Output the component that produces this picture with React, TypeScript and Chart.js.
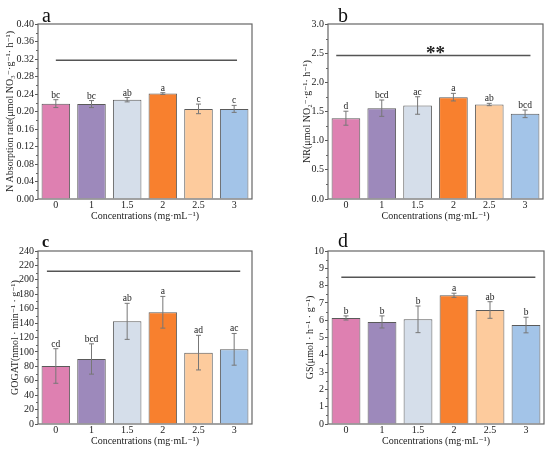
import { useEffect, useRef } from "react";
import { Chart, registerables } from "chart.js";

Chart.register(...registerables);

const categories = ["0", "1", "1.5", "2", "2.5", "3"];
const barColors = ["#DE80B1", "#9D89BB", "#D5DEEA", "#F8802E", "#FDCB9D", "#A3C4E8"];

const absorptionMeans = [0.218, 0.217, 0.227, 0.241, 0.206, 0.206];
const absorptionErrors = [0.009, 0.008, 0.005, 0.002, 0.011, 0.008];
const absorptionLetters = ["bc", "bc", "ab", "a", "c", "c"];

const nrMeans = [1.385, 1.557, 1.603, 1.746, 1.62, 1.46];
const nrErrors = [0.12, 0.14, 0.15, 0.065, 0.02, 0.065];
const nrLetters = ["d", "bcd", "ac", "a", "ab", "bcd"];

const gogatMeans = [80.5, 90.2, 142.4, 155, 99, 103.6];
const gogatErrors = [24, 21, 25, 22, 24, 22];
const gogatLetters = ["cd", "bcd", "ab", "a", "ad", "ac"];

const gsMeans = [6.13, 5.9, 6.05, 7.44, 6.59, 5.72];
const gsErrors = [0.12, 0.35, 0.77, 0.12, 0.48, 0.45];
const gsLetters = ["b", "b", "b", "a", "ab", "b"];

const FONT = "'Liberation Serif', 'DejaVu Serif', serif";
const X_TITLE = "Concentrations (mg·mL⁻¹)";

type PanelSpec = {
  tag: string;
  tagFont: string;
  tagDx: number;
  tagDy: number;
  means: number[];
  errors: number[];
  letters: string[];
  yTitle: string;
  yMax: number;
  yStep: number;
  decimals: number;
  lineValue: number;
  lineFrom: number;
  lineTo: number;
  stars?: string;
  left: number;
  top: number;
  width: number;
  height: number;
  yWidth: number;
  padRight: number;
  padTop: number;
  xHeight: number;
  yTitlePad: number;
  xTitlePad: number;
};

const panels: PanelSpec[] = [
  {
    tag: "a", tagFont: `20px ${FONT}`, tagDx: 4, tagDy: -2,
    means: absorptionMeans, errors: absorptionErrors, letters: absorptionLetters,
    yTitle: "N Absorption rate(μmol NO₃⁻·g⁻¹· h⁻¹)",
    yMax: 0.4, yStep: 0.04, decimals: 2,
    lineValue: 0.317, lineFrom: 0, lineTo: 5.08,
    left: 0, top: 0, width: 275, height: 225,
    yWidth: 38, padRight: 23, padTop: 24, xHeight: 26, yTitlePad: 4, xTitlePad: 3,
  },
  {
    tag: "b", tagFont: `20px ${FONT}`, tagDx: 10, tagDy: -2,
    means: nrMeans, errors: nrErrors, letters: nrLetters,
    yTitle: "NR(μmol NO₂⁻·g⁻¹· h⁻¹)",
    yMax: 3, yStep: 0.5, decimals: 1,
    lineValue: 2.462, lineFrom: -0.27, lineTo: 5.15, stars: "**",
    left: 275, top: 0, width: 275, height: 225,
    yWidth: 53, padRight: 7, padTop: 24, xHeight: 26, yTitlePad: 26, xTitlePad: 3,
  },
  {
    tag: "c", tagFont: `bold 16px ${FONT}`, tagDx: 4, tagDy: -4,
    means: gogatMeans, errors: gogatErrors, letters: gogatLetters,
    yTitle: "GOGAT(nmol · min⁻¹ · g⁻¹)",
    yMax: 240, yStep: 20, decimals: 0,
    lineValue: 211.8, lineFrom: -0.25, lineTo: 5.17,
    left: 0, top: 225, width: 275, height: 226,
    yWidth: 38, padRight: 23, padTop: 26, xHeight: 27, yTitlePad: 9, xTitlePad: 4,
  },
  {
    tag: "d", tagFont: `20px ${FONT}`, tagDx: 10, tagDy: -4,
    means: gsMeans, errors: gsErrors, letters: gsLetters,
    yTitle: "GS(μmol · h⁻¹ · g⁻¹)",
    yMax: 10, yStep: 1, decimals: 0,
    lineValue: 8.48, lineFrom: -0.13, lineTo: 5.26,
    left: 275, top: 225, width: 275, height: 226,
    yWidth: 53, padRight: 6, padTop: 26, xHeight: 27, yTitlePad: 29, xTitlePad: 4,
  },
];

function makeDecor(p: PanelSpec) {
  return {
    id: "decor",
    afterDatasetsDraw(chart: Chart) {
      const { ctx, chartArea } = chart;
      const x = chart.scales.x;
      const y = chart.scales.y;
      ctx.save();

      // error bars + significance letters
      ctx.lineWidth = 1;
      p.means.forEach((m, i) => {
        const cx = x.getPixelForValue(i);
        const hi = y.getPixelForValue(m + p.errors[i]);
        const lo = y.getPixelForValue(m - p.errors[i]);
        ctx.strokeStyle = "#777";
        ctx.beginPath();
        ctx.moveTo(cx, hi);
        ctx.lineTo(cx, lo);
        ctx.moveTo(cx - 2.5, hi);
        ctx.lineTo(cx + 2.5, hi);
        ctx.moveTo(cx - 2.5, lo);
        ctx.lineTo(cx + 2.5, lo);
        ctx.stroke();
        ctx.fillStyle = "#222";
        ctx.font = `9.5px ${FONT}`;
        ctx.textAlign = "center";
        ctx.textBaseline = "alphabetic";
        ctx.fillText(p.letters[i], cx, hi - 2);
      });

      // reference line
      const ly = y.getPixelForValue(p.lineValue);
      ctx.strokeStyle = "#555";
      ctx.lineWidth = 1.5;
      ctx.beginPath();
      ctx.moveTo(x.getPixelForValue(p.lineFrom), ly);
      ctx.lineTo(x.getPixelForValue(p.lineTo), ly);
      ctx.stroke();
      if (p.stars) {
        ctx.fillStyle = "#222";
        ctx.font = `bold 19px ${FONT}`;
        ctx.textAlign = "center";
        ctx.fillText(p.stars, x.getPixelForValue(2.5), ly + 4);
      }

      // frame
      ctx.strokeStyle = "#666";
      ctx.lineWidth = 1.2;
      ctx.strokeRect(chartArea.left, chartArea.top, chartArea.right - chartArea.left, chartArea.bottom - chartArea.top);

      // minor ticks
      ctx.lineWidth = 1;
      ctx.beginPath();
      for (let v = p.yStep / 2; v < p.yMax; v += p.yStep) {
        const py = Math.round(y.getPixelForValue(v)) + 0.5;
        ctx.moveTo(chartArea.left - 2, py);
        ctx.lineTo(chartArea.left, py);
      }
      ctx.stroke();

      // panel tag
      ctx.fillStyle = "#111";
      ctx.font = p.tagFont;
      ctx.textAlign = "left";
      ctx.fillText(p.tag, chartArea.left + p.tagDx, chartArea.top + p.tagDy);

      ctx.restore();
    },
  };
}

function Panel({ spec }: { spec: PanelSpec }) {
  const ref = useRef<HTMLCanvasElement | null>(null);

  useEffect(() => {
    if (!ref.current) return;
    const p = spec;
    const chart = new Chart(ref.current, {
      type: "bar",
      data: {
        labels: categories,
        datasets: [
          {
            data: p.means,
            backgroundColor: barColors,
            borderColor: "#5a5a5a",
            borderWidth: 1,
            barPercentage: 0.8,
            categoryPercentage: 1,
          },
        ],
      },
      options: {
        responsive: false,
        animation: false,
        devicePixelRatio: 1,
        layout: { padding: { top: p.padTop, right: p.padRight, left: 0, bottom: 0 } },
        plugins: { legend: { display: false }, tooltip: { enabled: false } },
        scales: {
          x: {
            grid: { display: false, drawTicks: false, tickLength: 0 },
            border: { display: false },
            ticks: { color: "#222", font: { family: FONT, size: 10 }, padding: 0, maxRotation: 0 },
            title: {
              display: true,
              text: X_TITLE,
              color: "#222",
              font: { family: FONT, size: 10 },
              padding: { top: 0, bottom: p.xTitlePad },
            },
            afterFit: (s: any) => {
              s.height = p.xHeight;
            },
          },
          y: {
            min: 0,
            max: p.yMax,
            border: { display: false },
            grid: { drawOnChartArea: false, drawTicks: true, tickLength: 3, color: "#555" },
            ticks: {
              stepSize: p.yStep,
              autoSkip: false,
              padding: 1,
              color: "#222",
              font: { family: FONT, size: 10 },
              callback: (v: any) => Number(v).toFixed(p.decimals),
            },
            title: {
              display: true,
              text: p.yTitle,
              color: "#222",
              font: { family: FONT, size: 10 },
              padding: { top: p.yTitlePad, bottom: 0 },
            },
            afterFit: (s: any) => {
              s.width = p.yWidth;
            },
          },
        },
      },
      plugins: [makeDecor(p)],
    });
    return () => {
      chart.destroy();
    };
  }, [spec]);

  return (
    <canvas
      ref={ref}
      width={spec.width}
      height={spec.height}
      style={{
        position: "absolute",
        left: spec.left,
        top: spec.top,
        width: spec.width,
        height: spec.height,
      }}
    />
  );
}

export default function App() {
  return (
    <div
      style={{
        position: "fixed",
        left: 0,
        top: 0,
        width: 550,
        height: 451,
        background: "#fff",
      }}
    >
      {panels.map((p) => (
        <Panel key={p.tag} spec={p} />
      ))}
    </div>
  );
}
